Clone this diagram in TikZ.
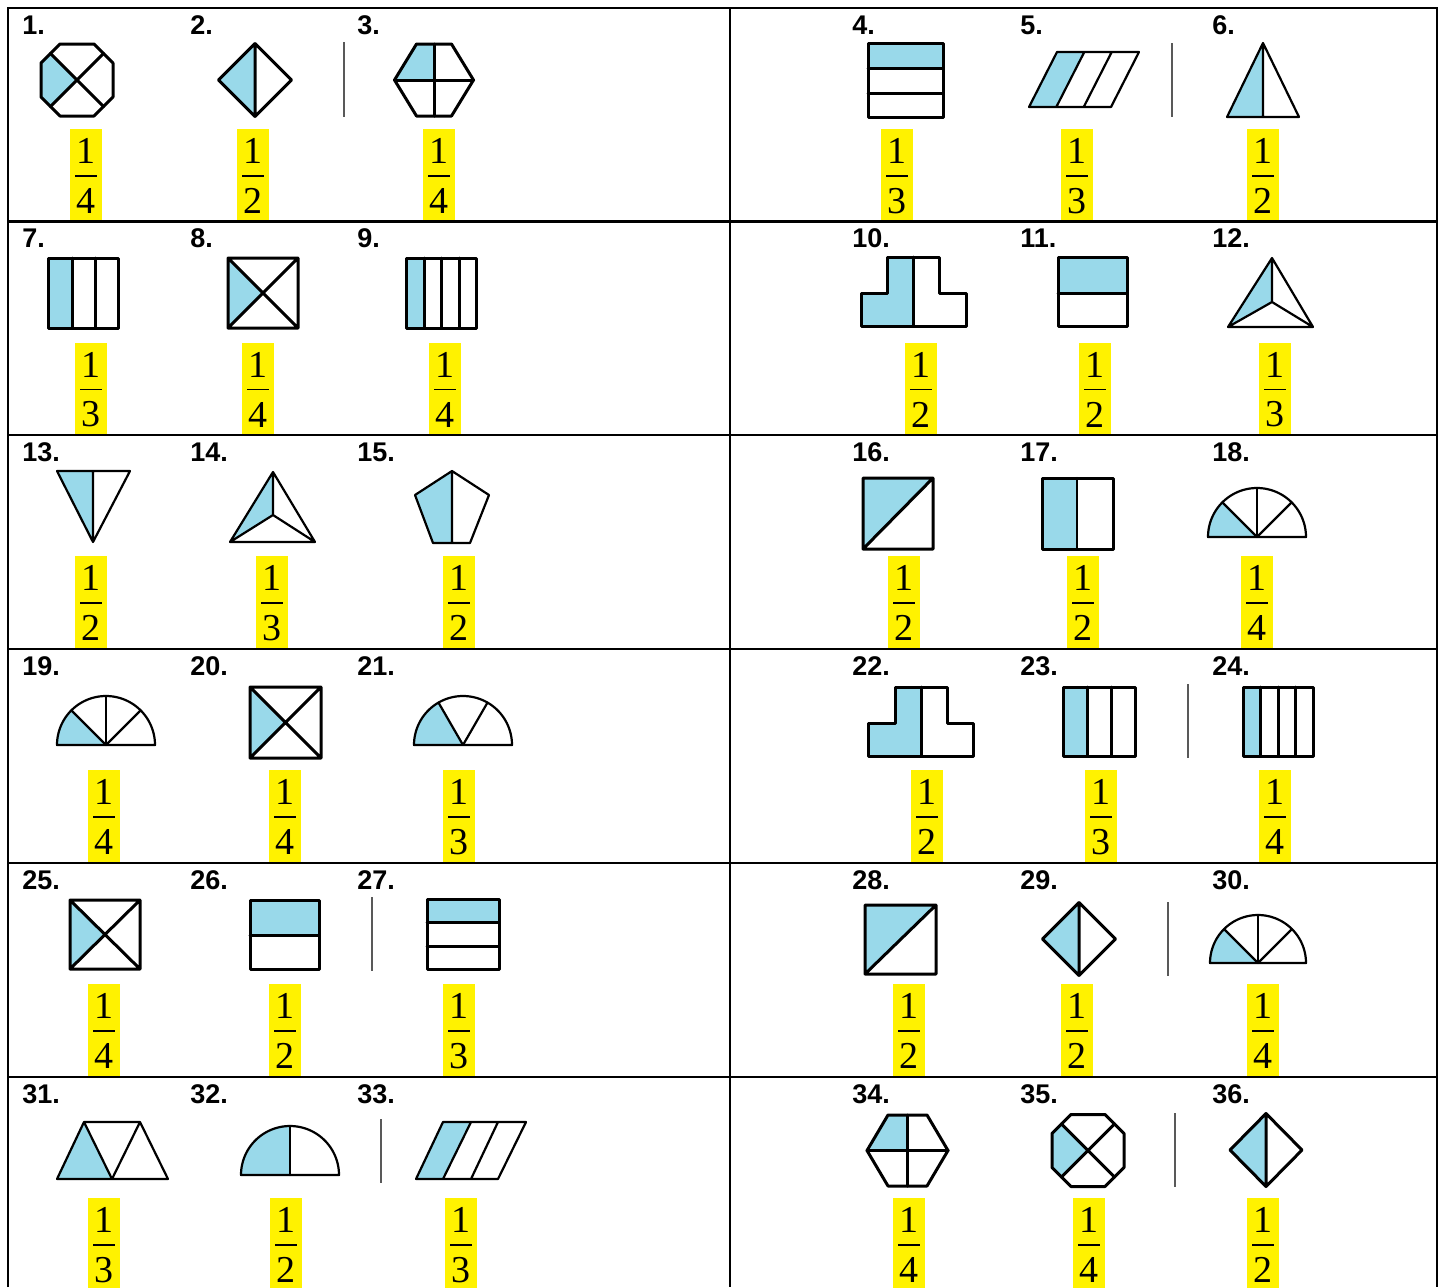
\documentclass[tikz,border=0pt]{standalone}
\usepackage{fontspec}
\setmainfont{Liberation Serif}
\newfontfamily\lblf{Liberation Sans Bold}
\definecolor{lb}{RGB}{153,217,234}
\tikzset{
 gridl/.style={line width=1.4pt},
 shp/.style={line width=1.5pt, line join=round, line cap=round},
 thinshp/.style={line width=1.1pt, line join=round, line cap=round},
 sepl/.style={line width=0.9pt, draw=black!65},
 lbl/.style={font=\lblf\fontsize{13.5}{13.5}\selectfont, anchor=base west, inner sep=0pt},
 num/.style={font=\fontsize{19}{19}\selectfont, inner sep=0pt},
 hl/.style={fill=yellow},
 barl/.style={line width=0.6pt},
}
% fraction: name, cx, rowtop, denominator
\newcommand\frc[4]{%
 \fill[hl] ({#2-16},{#3+121}) rectangle ({#2+16},{#3+213});
 \node[num] (#1n) at (#2,{#3+143}) {1};
 \draw[barl] ({#2-11},{#3+168}) -- ({#2+11},{#3+168});
 \node[num] (#1d) at (#2,{#3+193}) {#4};
}
% label: name, x, rowtop, text
\newcommand\lab[4]{\node[lbl] (#1) at (#2,{#3+26}) {#4};}
% octagon: cx, cy
\newcommand\octa[2]{%
 \fill[lb] (#1,#2) -- ({#1-26.5},{#2-26.5}) -- ({#1-36},{#2-17}) -- ({#1-36},{#2+17}) -- ({#1-26.5},{#2+26.5}) -- cycle;
 \draw[shp] ({#1-17},{#2-36}) -- ({#1+17},{#2-36}) -- ({#1+36},{#2-17}) -- ({#1+36},{#2+17}) -- ({#1+17},{#2+36}) -- ({#1-17},{#2+36}) -- ({#1-36},{#2+17}) -- ({#1-36},{#2-17}) -- cycle;
 \draw[shp] ({#1-26.5},{#2-26.5}) -- ({#1+26.5},{#2+26.5}) ({#1+26.5},{#2-26.5}) -- ({#1-26.5},{#2+26.5});
}
% diamond: cx, cy, hw, hh
\newcommand\diam[4]{%
 \fill[lb] (#1,{#2-#4}) -- ({#1-#3},#2) -- (#1,{#2+#4}) -- cycle;
 \draw[shp] (#1,{#2-#4}) -- ({#1+#3},#2) -- (#1,{#2+#4}) -- ({#1-#3},#2) -- cycle (#1,{#2-#4}) -- (#1,{#2+#4});
}
% hexagon: cx, cy, half top edge, half width, half height
\newcommand\hexa[5]{%
 \fill[lb] (#1,{#2-#5}) -- ({#1-#3},{#2-#5}) -- ({#1-#4},#2) -- (#1,#2) -- cycle;
 \draw[shp] ({#1-#3},{#2-#5}) -- ({#1+#3},{#2-#5}) -- ({#1+#4},#2) -- ({#1+#3},{#2+#5}) -- ({#1-#3},{#2+#5}) -- ({#1-#4},#2) -- cycle;
 \draw[shp] (#1,{#2-#5}) -- (#1,{#2+#5}) ({#1-#4},#2) -- ({#1+#4},#2);
}
% semicircle: cx, cy, r, divider angles, shade end angle
\newcommand\semi[5]{%
 \fill[lb] (#1,#2) -- plot[domain=180:#5,samples=40] ({#1+#3*cos(\x)},{#2-#3*sin(\x)}) -- cycle;
 \draw[thinshp] ({#1-#3},#2) -- plot[domain=180:0,samples=90] ({#1+#3*cos(\x)},{#2-#3*sin(\x)}) -- cycle;
 \foreach \aa in {#4} \draw[thinshp] (#1,#2) -- ({#1+#3*cos(\aa)},{#2-#3*sin(\aa)});
}
% T shape: left, xa, xb, right, top, wing, bottom, divider
\newcommand\tshape[8]{%
 \fill[lb] (#2,#5) -- (#8,#5) -- (#8,#7) -- (#1,#7) -- (#1,#6) -- (#2,#6) -- cycle;
 \draw[shp] (#2,#5) -- (#3,#5) -- (#3,#6) -- (#4,#6) -- (#4,#7) -- (#1,#7) -- (#1,#6) -- (#2,#6) -- cycle (#8,#5) -- (#8,#7);
}
% triangle with centre point: apex x, apex y, base left, base right, base y, centre x, centre y
\newcommand\tri[7]{%
 \fill[lb] (#1,#2) -- (#3,#5) -- (#6,#7) -- cycle;
 \draw[thinshp] (#1,#2) -- (#3,#5) -- (#4,#5) -- cycle (#6,#7) -- (#1,#2) (#6,#7) -- (#3,#5) (#6,#7) -- (#4,#5);
}
% X square: x1, y1, x2, y2
\newcommand\xsq[4]{%
 \fill[lb] (#1,#2) -- ({(#1+#3)/2},{(#2+#4)/2}) -- (#1,#4) -- cycle;
 \draw[shp] (#1,#2) rectangle (#3,#4) (#1,#2) -- (#3,#4) (#3,#2) -- (#1,#4);
}
% diagonal square: x1, y1, x2, y2
\newcommand\dsq[4]{%
 \fill[lb] (#1,#2) -- (#3,#2) -- (#1,#4) -- cycle;
 \draw[shp] (#1,#2) rectangle (#3,#4) (#1,#4) -- (#3,#2);
}
\begin{document}
\begin{tikzpicture}[x=0.5pt,y=-0.5pt]
\useasboundingbox (0,0) rectangle (1445,1287);
\fill[white] (0,0) rectangle (1445,1287);

% ---------- fractions ----------
\frc{f1}{86}{8}{4} \frc{f2}{253}{8}{2} \frc{f3}{439}{8}{4}
\frc{f4}{897}{8}{3} \frc{f5}{1077}{8}{3} \frc{f6}{1263}{8}{2}
\frc{f7}{91}{221.5}{3} \frc{f8}{258}{221.5}{4} \frc{f9}{445}{221.5}{4}
\frc{f10}{921}{221.5}{2} \frc{f11}{1095}{221.5}{2} \frc{f12}{1275}{221.5}{3}
\frc{f13}{91}{435}{2} \frc{f14}{272}{435}{3} \frc{f15}{459}{435}{2}
\frc{f16}{904}{435}{2} \frc{f17}{1083}{435}{2} \frc{f18}{1257}{435}{4}
\frc{f19}{104}{649}{4} \frc{f20}{285}{649}{4} \frc{f21}{459}{649}{3}
\frc{f22}{927}{649}{2} \frc{f23}{1101}{649}{3} \frc{f24}{1275}{649}{4}
\frc{f25}{104}{863}{4} \frc{f26}{285}{863}{2} \frc{f27}{459}{863}{3}
\frc{f28}{909}{863}{2} \frc{f29}{1077}{863}{2} \frc{f30}{1263}{863}{4}
\frc{f31}{104}{1077}{3} \frc{f32}{286}{1077}{2} \frc{f33}{461}{1077}{3}
\frc{f34}{909}{1077}{4} \frc{f35}{1089}{1077}{4} \frc{f36}{1263}{1077}{2}

% ---------- labels ----------
\lab{l1}{22}{8}{1.} \lab{l2}{190}{8}{2.} \lab{l3}{357}{8}{3.}
\lab{l4}{852}{8}{4.} \lab{l5}{1020}{8}{5.} \lab{l6}{1212}{8}{6.}
\lab{l7}{22}{221.5}{7.} \lab{l8}{190}{221.5}{8.} \lab{l9}{357}{221.5}{9.}
\lab{l10}{852}{221.5}{10.} \lab{l11}{1020}{221.5}{11.} \lab{l12}{1212}{221.5}{12.}
\lab{l13}{22}{435}{13.} \lab{l14}{190}{435}{14.} \lab{l15}{357}{435}{15.}
\lab{l16}{852}{435}{16.} \lab{l17}{1020}{435}{17.} \lab{l18}{1212}{435}{18.}
\lab{l19}{22}{649}{19.} \lab{l20}{190}{649}{20.} \lab{l21}{357}{649}{21.}
\lab{l22}{852}{649}{22.} \lab{l23}{1020}{649}{23.} \lab{l24}{1212}{649}{24.}
\lab{l25}{22}{863}{25.} \lab{l26}{190}{863}{26.} \lab{l27}{357}{863}{27.}
\lab{l28}{852}{863}{28.} \lab{l29}{1020}{863}{29.} \lab{l30}{1212}{863}{30.}
\lab{l31}{22}{1077}{31.} \lab{l32}{190}{1077}{32.} \lab{l33}{357}{1077}{33.}
\lab{l34}{852}{1077}{34.} \lab{l35}{1020}{1077}{35.} \lab{l36}{1212}{1077}{36.}

% ---------- row 1 ----------
\octa{77}{80}
\diam{255}{80}{36.5}{36.5}
\draw[sepl] (344,42) -- (344,117);
\hexa{434}{80}{17.5}{39.5}{36}
\fill[lb] (868,43) rectangle (943,68);
\draw[shp] (868,43) rectangle (943,117) (868,68) -- (943,68) (868,93) -- (943,93);
\fill[lb] (1029,107) -- (1057,52) -- (1084.3,52) -- (1056.3,107) -- cycle;
\draw[thinshp] (1057,52) -- (1139,52) -- (1111,107) -- (1029,107) -- cycle
  (1084.3,52) -- (1056.3,107) (1111.7,52) -- (1083.7,107);
\draw[sepl] (1172,43) -- (1172,117);
\fill[lb] (1263,43) -- (1227,117) -- (1263,117) -- cycle;
\draw[thinshp] (1263,43) -- (1299,117) -- (1227,117) -- cycle (1263,43) -- (1263,117);

% ---------- row 2 ----------
\fill[lb] (48,258) rectangle (72,328);
\draw[shp] (48,258) rectangle (118,328) (72,258) -- (72,328) (95,258) -- (95,328);
\xsq{228}{258}{298}{328}
\fill[lb] (406,258) rectangle (424,328);
\draw[shp] (406,258) rectangle (476,328) (424,258) -- (424,328) (441.5,258) -- (441.5,328) (459,258) -- (459,328);
\tshape{861}{887}{939}{966}{257}{293}{326}{913}
\fill[lb] (1058,257) rectangle (1127,293);
\draw[shp] (1058,257) rectangle (1127,326) (1058,293) -- (1127,293);
\tri{1272}{258}{1228}{1313}{327}{1272}{302}

% ---------- row 3 ----------
\fill[lb] (57,471) -- (93,471) -- (93,542) -- cycle;
\draw[thinshp] (57,471) -- (130,471) -- (93,542) -- cycle (93,471) -- (93,542);
\tri{273}{472}{230}{315}{542}{273}{515}
\fill[lb] (452,471) -- (415,495) -- (433,543) -- (452,543) -- cycle;
\draw[thinshp] (452,471) -- (489,495) -- (470,543) -- (433,543) -- (415,495) -- cycle (452,471) -- (452,543);
\dsq{863}{478}{933}{549}
\fill[lb] (1042,478) rectangle (1077,549);
\draw[shp] (1042,478) rectangle (1113,549);
\draw[thinshp] (1077,478) -- (1077,549);
\semi{1257}{537}{49}{45,90,135}{135}

% ---------- row 4 ----------
\semi{106}{745}{49}{45,90,135}{135}
\xsq{250}{687}{321}{758}
\semi{463}{745}{49}{60,120}{120}
\tshape{868}{895}{947}{973}{687}{723}{756}{921}
\fill[lb] (1063,687) rectangle (1087,756);
\draw[shp] (1063,687) rectangle (1135,756) (1087,687) -- (1087,756) (1111,687) -- (1111,756);
\draw[sepl] (1188,684) -- (1188,758);
\fill[lb] (1243,687) rectangle (1260.5,756);
\draw[shp] (1243,687) rectangle (1313,756) (1260.5,687) -- (1260.5,756) (1278,687) -- (1278,756) (1295.5,687) -- (1295.5,756);

% ---------- row 5 ----------
\xsq{70}{900}{140}{969}
\fill[lb] (250,900) rectangle (319,935);
\draw[shp] (250,900) rectangle (319,969) (250,935) -- (319,935);
\draw[sepl] (372,897) -- (372,971);
\fill[lb] (427,899) rectangle (499,922);
\draw[shp] (427,899) rectangle (499,969) (427,922) -- (499,922) (427,946) -- (499,946);
\dsq{865}{905}{936}{974}
\diam{1079}{939}{36.5}{36.5}
\draw[sepl] (1168,902) -- (1168,976);
\semi{1258}{963}{48}{45,90,135}{135}

% ---------- row 6 ----------
\fill[lb] (57,1179) -- (84,1122) -- (112,1179) -- cycle;
\draw[thinshp] (84,1122) -- (140,1122) -- (168,1179) -- (57,1179) -- cycle
  (84,1122) -- (112,1179) -- (140,1122);
\semi{290}{1175}{49}{90}{90}
\draw[sepl] (381,1119) -- (381,1183);
\fill[lb] (416,1179) -- (443,1122) -- (471,1122) -- (443,1179) -- cycle;
\draw[thinshp] (443,1122) -- (526,1122) -- (498,1179) -- (416,1179) -- cycle
  (471,1122) -- (443,1179) (498,1122) -- (471,1179);
\hexa{907.5}{1150.5}{19.5}{40.5}{35.5}
\octa{1088}{1150.5}
\draw[sepl] (1175,1113) -- (1175,1187);
\diam{1266}{1150}{36}{36.5}

% ---------- grid ----------
\draw[gridl] (8,1287) -- (8,8) -- (1437,8) -- (1437,1287);
\draw[gridl] (730,8) -- (730,1287);
\foreach \yy in {221.5,435,649,863,1077} \draw[gridl] (8,\yy) -- (1437,\yy);
\end{tikzpicture}
\end{document}
